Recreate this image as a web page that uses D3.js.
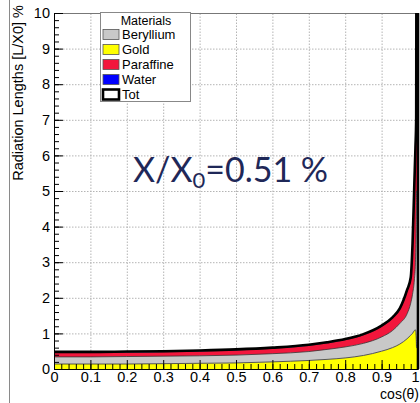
<!DOCTYPE html>
<html>
<head>
<meta charset="utf-8">
<script src="https://cdn.jsdelivr.net/npm/d3@7"></script>
<style>
  body { margin: 0; background: #fff; }
  svg { display: block; }
  text { font-family: "Liberation Sans", Arial, sans-serif; }
</style>
</head>
<body>
<script>
// cos(theta) bins and the material contributions (radiation length, %)
let cosTheta  = [0, 0.1, 0.2, 0.3, 0.4, 0.5, 0.6, 0.7, 0.75, 0.8, 0.85, 0.9, 0.93, 0.95, 0.97, 0.98, 0.985, 0.99, 0.993, 0.995, 0.996, 1.0];
let gold      = [0.14, 0.14, 0.14, 0.15, 0.16, 0.17, 0.20, 0.24, 0.27, 0.31, 0.38, 0.50, 0.60, 0.70, 0.85, 0.95, 1.00, 1.08, 1.10, 0.90, 0.60, 0.60];
let beryllium = [0.20, 0.20, 0.21, 0.21, 0.21, 0.22, 0.23, 0.25, 0.28, 0.31, 0.34, 0.40, 0.48, 0.58, 0.70, 0.90, 1.10, 1.42, 1.90, 3.10, 4.40, 4.40];
let paraffine = [0.12, 0.12, 0.12, 0.12, 0.13, 0.14, 0.15, 0.17, 0.18, 0.20, 0.24, 0.30, 0.35, 0.40, 0.65, 0.70, 1.40, 2.70, 3.20, 3.00, 9.00, 9.00];
let water     = [0.02, 0.02, 0.02, 0.02, 0.02, 0.02, 0.02, 0.02, 0.02, 0.02, 0.02, 0.02, 0.02, 0.02, 0.02, 0.02, 0.02, 0.02, 0.02, 0.02, 0.02, 0.02];

let xTicks = [0, 0.1, 0.2, 0.3, 0.4, 0.5, 0.6, 0.7, 0.8, 0.9, 1];
let yTicks = [0, 1, 2, 3, 4, 5, 6, 7, 8, 9, 10];

let legendLabels = ["Beryllium", "Gold", "Paraffine", "Water", "Tot"];
let legendColors = ["#c8c8c8", "#ffff00", "#f2163c", "#0000ff", "#ffffff"];

let w = 420, h = 403;
let padL = 54, padR = 418, padT = 13, padB = 369;

const svg = d3.select("body").append("svg")
    .attr("width", w)
    .attr("height", h);

// border line on the far left of the picture
svg.append("line")
    .attr("x1", 9.5).attr("x2", 9.5).attr("y1", 0).attr("y2", h)
    .attr("stroke", "#8a8a8a").attr("stroke-width", 1);

const xScale = d3.scaleLinear().domain([0, 1]).range([padL, padR]);
const yScale = d3.scaleLinear().domain([0, 10]).range([padB, padT]);

// grid
svg.append("g")
    .attr("transform", "translate(0," + padB + ")")
    .call(d3.axisBottom(xScale).tickValues(xTicks.slice(1)).tickSize(-(padB - padT)).tickFormat(""))
    .call(g => g.select(".domain").remove())
    .selectAll("line").attr("stroke", "#b4b4b4").attr("stroke-dasharray", "1.5,1.5");
svg.append("g")
    .attr("transform", "translate(" + padL + ",0)")
    .call(d3.axisLeft(yScale).tickValues(yTicks.slice(1)).tickSize(-(padR - padL)).tickFormat(""))
    .call(g => g.select(".domain").remove())
    .selectAll("line").attr("stroke", "#b4b4b4").attr("stroke-dasharray", "1.5,1.5");

// top frame
svg.append("line")
    .attr("x1", padL).attr("x2", padR).attr("y1", padT + 0.5).attr("y2", padT + 0.5)
    .attr("stroke", "#777").attr("stroke-width", 1);

svg.append("clipPath").attr("id", "plotclip")
    .append("rect").attr("x", padL).attr("y", padT).attr("width", padR - padL + 2).attr("height", padB - padT);

let rows = cosTheta.map((c, i) => ({
    c: c, gold: gold[i], beryllium: beryllium[i], paraffine: paraffine[i], water: water[i]
}));

const keys = ["gold", "beryllium", "paraffine", "water"];
const fills = { gold: "#ffff00", beryllium: "#c8c8c8", paraffine: "#f2163c", water: "#0000ff" };
const series = d3.stack().keys(keys)(rows);

const plot = svg.append("g").attr("clip-path", "url(#plotclip)");

const area = d3.area()
    .curve(d3.curveMonotoneX)
    .x(d => xScale(d.data.c))
    .y0(d => yScale(d[0]))
    .y1(d => yScale(d[1]));

const topLine = d3.line()
    .curve(d3.curveMonotoneX)
    .x(d => xScale(d.data.c))
    .y(d => yScale(d[1]));

plot.selectAll("path.layer")
    .data(series)
    .enter()
    .append("path")
    .attr("class", "layer")
    .attr("d", area)
    .attr("fill", d => fills[d.key]);

plot.selectAll("path.edge")
    .data(series.slice(0, 3))
    .enter()
    .append("path")
    .attr("class", "edge")
    .attr("d", topLine)
    .attr("fill", "none")
    .attr("stroke", "#333")
    .attr("stroke-width", 0.8);

// total histogram outline
let tot = rows.map(r => ({ c: r.c, v: r.gold + r.beryllium + r.paraffine + r.water }));
plot.append("path")
    .attr("d", d3.line().curve(d3.curveMonotoneX).x(d => xScale(d.c)).y(d => yScale(d.v))(tot))
    .attr("fill", "none")
    .attr("stroke", "#000")
    .attr("stroke-width", 2.6);
// closing edge of the last bin back down to zero
plot.append("line")
    .attr("x1", xScale(1)).attr("x2", xScale(1))
    .attr("y1", yScale(tot[tot.length - 1].v)).attr("y2", yScale(0))
    .attr("stroke", "#000")
    .attr("stroke-width", 2.6);

// axes with inward ticks
const yAxis = svg.append("g")
    .attr("transform", "translate(" + padL + ",0)")
    .call(d3.axisLeft(yScale).tickValues(yTicks).tickSize(-9).tickPadding(4));
svg.append("g")
    .attr("transform", "translate(" + padL + ",0)")
    .call(d3.axisLeft(yScale).tickValues(d3.range(0, 10.001, 0.2)).tickSize(-5).tickFormat(""))
    .call(g => g.select(".domain").remove());

const xAxis = svg.append("g")
    .attr("transform", "translate(0," + padB + ")")
    .call(d3.axisBottom(xScale).tickValues(xTicks).tickSize(-9).tickPadding(3)
        .tickFormat(d => (d === 0 || d === 1) ? String(d) : d.toFixed(1)));
svg.append("g")
    .attr("transform", "translate(0," + padB + ")")
    .call(d3.axisBottom(xScale).tickValues(d3.range(0, 1.001, 0.02)).tickSize(-5).tickFormat(""))
    .call(g => g.select(".domain").remove());

svg.selectAll(".tick text")
    .attr("fill", "#000")
    .style("font-size", "14.5px")
    .style("font-family", "'Liberation Sans', Arial, sans-serif");
xAxis.selectAll(".tick text").filter(d => d === 1).attr("dx", "-3px");
svg.selectAll(".tick line").filter(function () { return !this.getAttribute("stroke-dasharray"); })
    .attr("stroke", "#000");
yAxis.select(".domain").attr("stroke", "#000");
xAxis.select(".domain").attr("stroke", "#000");

// axis titles
svg.append("text")
    .attr("transform", "translate(23,5) rotate(-90)")
    .attr("text-anchor", "end")
    .style("font-size", "14.5px")
    .text("Radiation Lengths [L/X0] %");

svg.append("text")
    .attr("x", 419)
    .attr("y", 398.5)
    .attr("text-anchor", "end")
    .style("font-size", "14px")
    .text("cos(\u03b8)");

// legend
const legend = svg.append("g").attr("id", "legend");
legend.append("rect")
    .attr("x", 100.5).attr("y", 12.5).attr("width", 90).attr("height", 89)
    .attr("fill", "#fff").attr("stroke", "#888");
legend.append("text")
    .attr("x", 146).attr("y", 25)
    .attr("text-anchor", "middle")
    .style("font-size", "12.5px")
    .text("Materials");
legend.selectAll("rect.sw")
    .data(legendColors)
    .enter()
    .append("rect")
    .attr("class", "sw")
    .attr("x", 103)
    .attr("y", (d, i) => 29.5 + i * 15)
    .attr("width", 16)
    .attr("height", 10)
    .attr("fill", d => d)
    .attr("stroke", (d, i) => i === 4 ? "#000" : "#555")
    .attr("stroke-width", (d, i) => i === 4 ? 2.6 : 0.8);
legend.selectAll("text.lab")
    .data(legendLabels)
    .enter()
    .append("text")
    .attr("class", "lab")
    .attr("x", 122)
    .attr("y", (d, i) => 39 + i * 15)
    .style("font-size", "13px")
    .text(d => d);

// annotation
const note = svg.append("text")
    .attr("x", 133)
    .attr("y", 182)
    .attr("fill", "#1f2858")
    .style("font-family", "Lato, 'Open Sans', sans-serif")
    .style("font-size", "34px");
note.append("tspan").text("X/X");
note.append("tspan").attr("dy", 6).style("font-size", "22px").text("0");
note.append("tspan").attr("dy", -6).text("=0.51 %");
</script>
</body>
</html>
